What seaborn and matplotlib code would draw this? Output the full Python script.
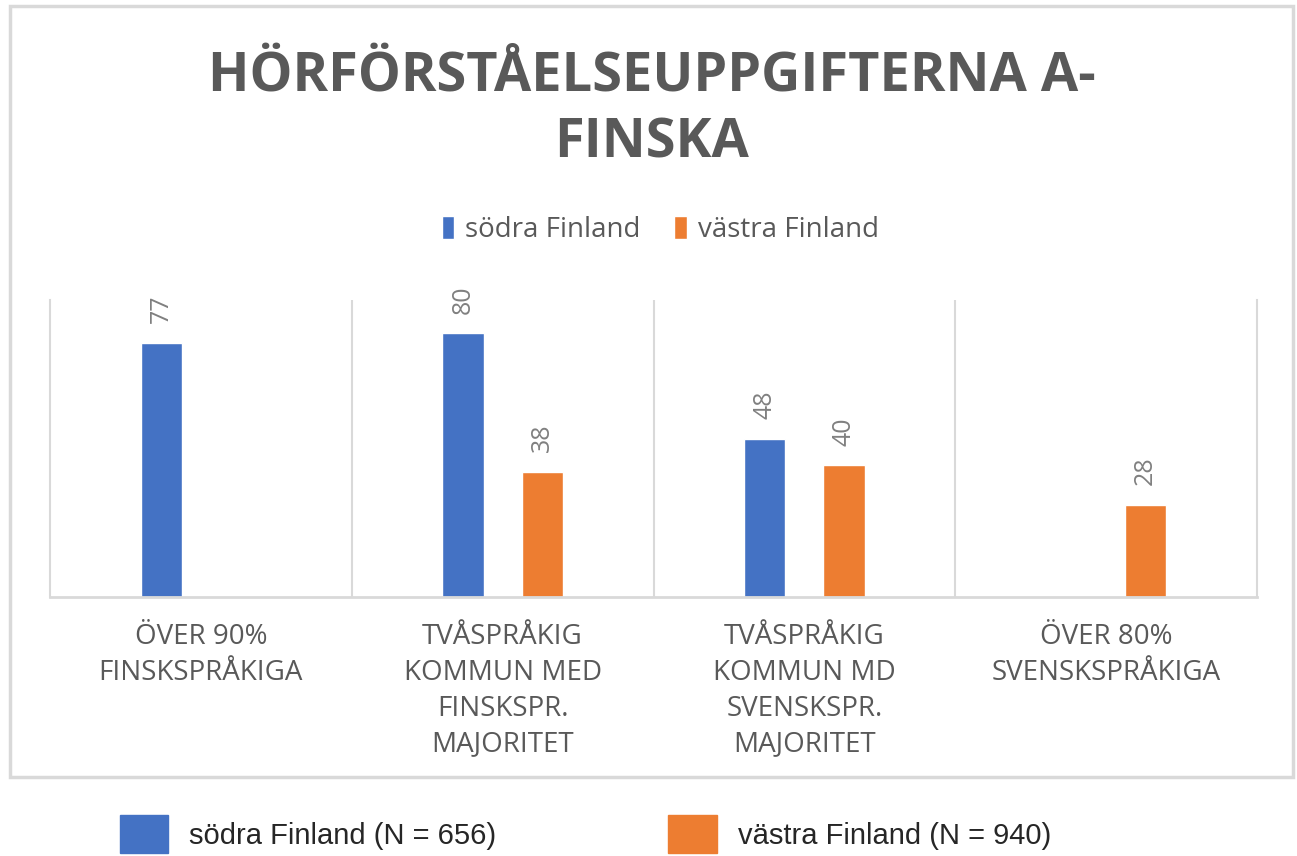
import pandas as pd
import matplotlib
matplotlib.use("Agg")
import matplotlib.pyplot as plt
from matplotlib.patches import Rectangle, Patch
import seaborn as sns

# ---------- data ----------
categories = [
    "ÖVER 90%\nFINSKSPRÅKIGA",
    "TVÅSPRÅKIG\nKOMMUN MED\nFINSKSPR.\nMAJORITET",
    "TVÅSPRÅKIG\nKOMMUN MD\nSVENSKSPR.\nMAJORITET",
    "ÖVER 80%\nSVENSKSPRÅKIGA",
]
regions = ["södra Finland", "västra Finland"]
sodra_values = [77, 80, 48, None]
vastra_values = [None, 38, 40, 28]
sample_labels = ["södra Finland (N = 656)", "västra Finland (N = 940)"]

colors = ["#4472C4", "#ED7D31"]
title = "HÖRFÖRSTÅELSEUPPGIFTERNA A-\nFINSKA"
grey_line = "#D9D9D9"
grey_text = "#595959"

# long format, drop the missing bars
rows = []
for cat, s, v in zip(categories, sodra_values, vastra_values):
    rows.append({"category": cat, "region": regions[0], "value": s})
    rows.append({"category": cat, "region": regions[1], "value": v})
df = pd.DataFrame(rows).dropna()

sns.set_style("white")
plt.rcParams["font.family"] = ["Open Sans", "DejaVu Sans"]

W, H = 1297, 856
fig = plt.figure(figsize=(W / 100, H / 100), dpi=100)
ax = fig.add_axes([50 / W, 1 - 597 / H, 1207 / W, 297 / H])

sns.barplot(data=df, x="category", y="value", hue="region",
            order=categories, hue_order=regions, palette=colors,
            saturation=1, width=0.525, gap=0.48, errorbar=None, ax=ax)

ax.set_xlim(-0.5, 3.5)
ax.set_ylim(0, 90)
ax.set_xlabel("")
ax.set_ylabel("")
ax.set_yticks([])

# separators between categories
ax.set_xticks([0.5, 1.5, 2.5], minor=True)
ax.grid(axis="x", which="minor", color=grey_line, lw=1.5)
ax.grid(axis="x", which="major", visible=False)
ax.tick_params(axis="x", which="both", length=0, labelsize=20,
               labelcolor=grey_text, pad=19)
for t in ax.get_xticklabels():
    t.set_linespacing(1.36)

ax.spines["top"].set_visible(False)
for side in ["left", "right"]:
    ax.spines[side].set_color(grey_line)
    ax.spines[side].set_linewidth(1.5)
ax.spines["bottom"].set_color(grey_line)
ax.spines["bottom"].set_linewidth(2)

# value labels
for c in ax.containers:
    ax.bar_label(c, fmt="%g", rotation=90, padding=14,
                 color="#808080", fontsize=18)

# legend under the title
handles, labels = ax.get_legend_handles_labels()
ax.get_legend().remove()
fig.legend(handles, labels, loc="center", bbox_to_anchor=(0.509, 0.731),
           ncol=2, frameon=False, fontsize=20, handlelength=0.45,
           handleheight=0.9, handletextpad=0.4, columnspacing=1.2,
           labelcolor=grey_text)

# title
fig.text(652 / W, 1 - 110 / H, title, ha="center", va="center",
         fontsize=39, fontweight="bold", color=grey_text, linespacing=1.33)

# chart frame
fig.patches.append(Rectangle((10 / W, 1 - 777 / H), 1283 / W, 771 / H,
                             transform=fig.transFigure, fill=False,
                             ec=grey_line, lw=2.5))

# sample size legend outside the frame
n_handles = [Patch(color=c) for c in colors]
fig.legend(n_handles, sample_labels, loc="center",
           bbox_to_anchor=(0.4514, 0.0257), ncol=2, frameon=False,
           prop={"family": "Liberation Sans", "size": 21},
           handlelength=1.65, handleheight=1.65, handletextpad=0.72,
           columnspacing=5.9)

fig.savefig("out.png", dpi=100)
